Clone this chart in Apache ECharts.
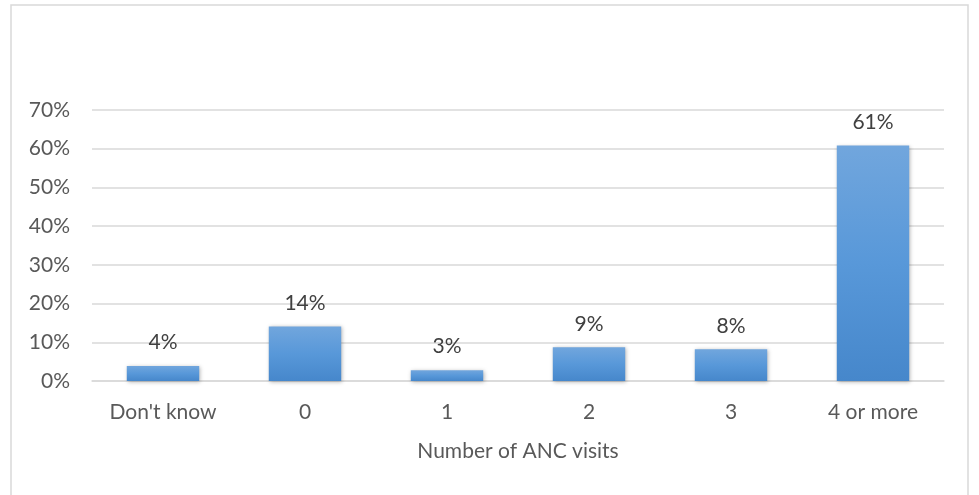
<!DOCTYPE html>
<html>
<head>
<meta charset="utf-8">
<script src="https://cdn.jsdelivr.net/npm/echarts@6/dist/echarts.min.js"></script>
<style>
html,body{margin:0;padding:0;background:#fff;}
#c{width:979px;height:495px;}
</style>
</head>
<body>
<div id="c"></div>
<script>
const categories = ["Don't know", "0", "1", "2", "3", "4 or more"];
const values = [3.9, 14.1, 2.8, 8.7, 8.2, 60.8];
const yTicks = [0, 10, 20, 30, 40, 50, 60, 70];
const xName = "Number of ANC visits";

const chart = echarts.init(document.getElementById('c'));
const font = "Lato, 'Open Sans', sans-serif";
const fs = 21;
chart.setOption({
  animation: false,
  graphic: [{
    type: 'rect',
    shape: {x: 11, y: 5, width: 957, height: 500},
    style: {fill: 'none', stroke: '#d9d9d9', lineWidth: 1.5},
    silent: true,
    z: -1
  }],
  grid: {left: 92, right: 35, top: 110, bottom: 114, containLabel: false},
  xAxis: {
    type: 'category',
    data: categories,
    name: xName,
    nameLocation: 'middle',
    nameGap: 60,
    nameTextStyle: {color: '#595959', fontSize: fs, fontFamily: font},
    axisLine: {lineStyle: {color: '#d9d9d9', width: 1.5}},
    axisTick: {show: false},
    axisLabel: {color: '#595959', fontSize: fs, fontFamily: font, margin: 21}
  },
  yAxis: {
    type: 'value',
    min: yTicks[0],
    max: yTicks[yTicks.length - 1],
    interval: 10,
    axisLine: {show: false},
    axisTick: {show: false},
    splitLine: {lineStyle: {color: '#d9d9d9', width: 1.5}},
    axisLabel: {color: '#595959', fontSize: fs, fontFamily: font, margin: 22, formatter: v => v + '%'}
  },
  series: [{
    type: 'bar',
    data: values,
    barWidth: '51%',
    itemStyle: {
      color: new echarts.graphic.LinearGradient(0, 0, 0, 1, [
        {offset: 0, color: '#71a6dd'},
        {offset: 0.5, color: '#5898d9'},
        {offset: 1, color: '#4687cb'}
      ]),
      shadowBlur: 4,
      shadowColor: 'rgba(0,0,0,0.3)',
      shadowOffsetX: 1,
      shadowOffsetY: 1
    },
    label: {
      show: true,
      position: 'top',
      distance: 13,
      color: '#404040',
      fontSize: fs,
      fontFamily: font,
      formatter: p => Math.round(p.value) + '%'
    }
  }]
});
</script>
</body>
</html>
